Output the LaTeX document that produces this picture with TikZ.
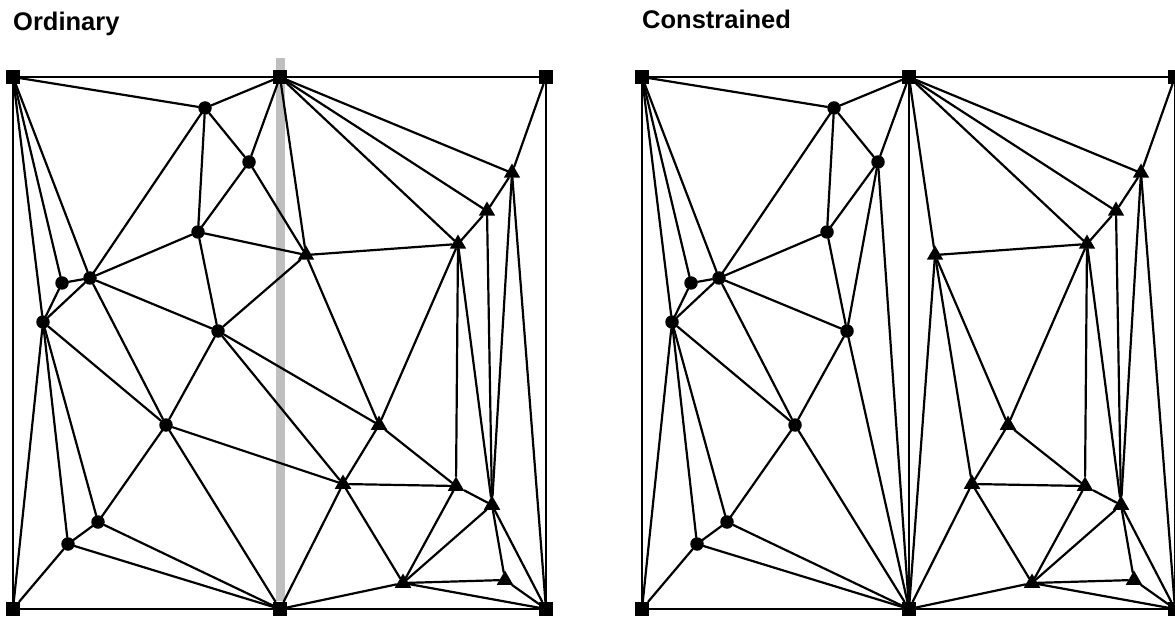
\documentclass[tikz,border=0pt]{standalone}
\usepackage{fontspec}
\setmainfont{Liberation Sans}
\usepackage{tikz}
\usetikzlibrary{positioning}
\usetikzlibrary{shapes.geometric}
\tikzstyle{cornervertex}=[rectangle,fill=black,draw=none,minimum size=14pt,inner sep=0pt]
\tikzstyle{dotvertex}=[circle,fill=black,draw=none,minimum size=13.5pt,inner sep=0pt]
\tikzstyle{trivertex}=[regular polygon,regular polygon sides=3,fill=black,draw=none,minimum size=19pt,inner sep=0pt,yshift=-3pt]
\tikzstyle{undirectededge} = [draw,line width=2.2pt,line cap=round,line join=round]
\tikzstyle{cutline} = [draw=black!25,line width=9pt]
\tikzstyle{title} = [anchor=base west,inner sep=0pt,font=\bfseries\fontsize{25.5}{30}\selectfont]

% point sets (x/y in pixels, y downwards)
\def\cornerpts{13/77/TL, 280/77/TM, 546/77/TR, 13/609/BL, 280/609/BM, 546/609/BR}
\def\dotpts{205/108/c1, 249/162/c2, 198/232/c3, 62/283/c4, 90/278/c5, 43/322/c6, 218/331/c7, 166/425/c8, 98/522/c9, 68/544/c10}
\def\tripts{512/170/t1, 487/208/t2, 458/241/t3, 306/252/t4, 379/422/t5, 343/481/t6, 456/483/t7, 492/502/t8, 403/580/t9, 505/577/t10}
% edges shared by both triangulations
\def\sharededges{TL/TM, TM/TR, TR/BR, BR/BM, BM/BL, BL/TL, TL/c1, TL/c5, TL/c4, TL/c6, c1/TM, c1/c2, c1/c3, c1/c5, c2/TM, TM/t4, TM/t3, TM/t2, TM/t1, c2/c3, c3/c5, c3/c7, c5/c4, c5/c6, c5/c7, c5/c8, c4/c6, c6/BL, c6/c10, c6/c9, c6/c8, c7/c8, c8/c9, c8/BM, c9/c10, c9/BM, c10/BL, c10/BM, BM/t6, BM/t9, t4/t3, t4/t5, t3/t2, t3/t5, t3/t7, t3/t8, t2/t1, t2/t8, t1/TR, t1/t8, t1/BR, t7/t5, t7/t6, t7/t8, t7/t9, t5/t6, t6/t9, t9/t8, t9/t10, t9/BR, t10/t8, t10/BR, t8/BR}
\def\ordedges{c2/t4, c3/t4, c7/t4, c7/t5, c7/t6, c8/t6}
\def\conedges{TM/BM, c2/c7, c2/BM, c7/BM, t4/BM, t4/t6}

\begin{document}
\begin{tikzpicture}[x=1pt,y=-1pt]
    \useasboundingbox (0,0) rectangle (1175,620);
    \clip (0,0) rectangle (1175,620);
    % the cut through the ordinary one
    \path[cutline] (280,58) -- (280,601);

    % First we draw the vertices
    \foreach \dx/\p in {0/o, 629/k} {
        \foreach \x/\y/\name in \cornerpts
            \node[cornervertex] (\p\name) at (\x+\dx,\y) {};
        \foreach \x/\y/\name in \dotpts
            \node[dotvertex] (\p\name) at (\x+\dx,\y) {};
        \foreach \x/\y/\name in \tripts
            \node[trivertex] (\p\name) at (\x+\dx,\y) {};
    }

    % Connect vertices with edges
    \foreach \p in {o,k}
        \foreach \source/\dest in \sharededges
            \path[undirectededge] (\p\source) -- (\p\dest);
    \foreach \source/\dest in \ordedges
        \path[undirectededge] (o\source) -- (o\dest);
    \foreach \source/\dest in \conedges
        \path[undirectededge] (k\source) -- (k\dest);

    \node[title] (ordtitle) at (13,31) {Ordinary};
    \node[title] (contitle) at (642,29) {Constrained};
\end{tikzpicture}
\end{document}
